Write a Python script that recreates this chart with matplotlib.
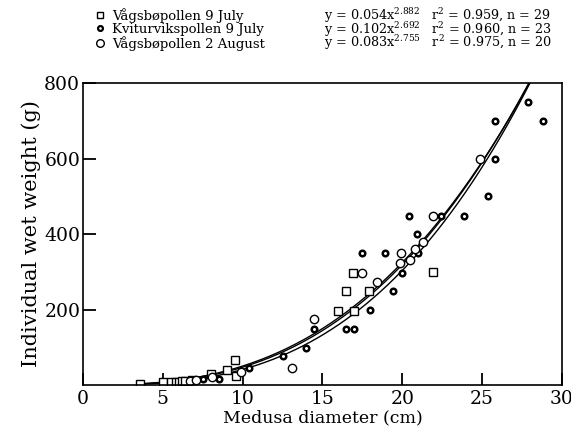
#medusa wet weight vs diameter, three samples with power-law fits

import numpy as np
import matplotlib
matplotlib.use('Agg')
import matplotlib.pyplot as plt
from matplotlib.lines import Line2D

plt.rcParams['font.family']='DejaVu Serif'
plt.rcParams['mathtext.fontset']='dejavuserif'

#Vagsbopollen 9 July (squares)
vag_jul_d=[3.6,5.0,5.5,5.8,6.0,6.2,6.4,6.8,8.0,9.0,9.5,9.6,16.0,17.0,16.5,17.9,16.9,21.9]
vag_jul_w=[3,8,9,8,9,10,10,12,28,40,66,24,197,197,249,249,297,300]

#Kviturvikspollen 9 July (small bold circles)
kvi_d=[7.5,8.5,10.4,12.5,14.0,14.5,16.5,17.0,18.0,19.4,17.45,18.95,20.0,20.9,21.0,20.4,22.4,23.9,25.4,25.8,25.8,28.8,27.85]
kvi_w=[15,16,46,76,97,148,148,148,199,249,349,349,296,400,349,448,448,448,500,600,700,700,749]

#Vagsbopollen 2 August (open circles)
vag_aug_d=[6.7,7.1,8.1,9.9,13.1,14.5,17.45,18.4,19.9,19.85,20.5,20.8,21.3,21.9,24.9]
vag_aug_w=[11,14,20,35,44,174,297,274,349,322,330,360,380,448,600]

#fits y=a*x^b
fit_a=[0.054,0.102,0.083]
fit_b=[2.882,2.692,2.755]
fit_text=[r'y = 0.054x$^{2.882}$   r$^2$ = 0.959, n = 29',
          r'y = 0.102x$^{2.692}$   r$^2$ = 0.960, n = 23',
          r'y = 0.083x$^{2.755}$   r$^2$ = 0.975, n = 20']
labels=['Vågsbøpollen 9 July','Kviturvikspollen 9 July','Vågsbøpollen 2 August']

fig=plt.figure(figsize=(5.71,4.37),dpi=100)
ax=fig.add_axes([0.1454,0.119,0.8386,0.691])

x=np.linspace(3.5,30,300)
for a,b in zip(fit_a,fit_b):
    ax.plot(x,a*x**b,color='k',lw=1.0)

ax.plot(vag_jul_d,vag_jul_w,ls='none',marker='s',ms=5.5,mfc='white',mec='k',mew=1.0)
ax.plot(kvi_d,kvi_w,ls='none',marker='o',ms=4,mfc='white',mec='k',mew=1.8)
ax.plot(vag_aug_d,vag_aug_w,ls='none',marker='o',ms=6,mfc='white',mec='k',mew=1.0)

ax.set_xlim(0,30)
ax.set_ylim(0,800)
ax.set_xticks([0,5,10,15,20,25,30])
ax.set_yticks([200,400,600,800])
ax.tick_params(direction='in',length=9,width=1.3,labelsize=13.5,top=False,right=False)
ax.tick_params(axis='y',pad=2)
for s in ax.spines.values():
    s.set_linewidth(1.2)
ax.set_xlabel('Medusa diameter (cm)',fontsize=12.5,labelpad=1)
ax.set_ylabel('Individual wet weight (g)',fontsize=15,labelpad=2)

#legend block above the axes
handles=[Line2D([],[],ls='none',marker='s',ms=5,mfc='white',mec='k',mew=1.0),
         Line2D([],[],ls='none',marker='o',ms=3.5,mfc='white',mec='k',mew=1.6),
         Line2D([],[],ls='none',marker='o',ms=5.5,mfc='white',mec='k',mew=1.0)]
fig.legend(handles,labels,loc='upper left',bbox_to_anchor=(0.15,1.0),frameon=False,
           fontsize=9.5,handletextpad=0.4,labelspacing=0.0,handlelength=1.0,borderaxespad=0.2)
for i,t in enumerate(fit_text):
    fig.text(0.568,0.964-i*0.031,t,fontsize=9.2,va='center',ha='left')

fig.savefig('out.png',dpi=100)
